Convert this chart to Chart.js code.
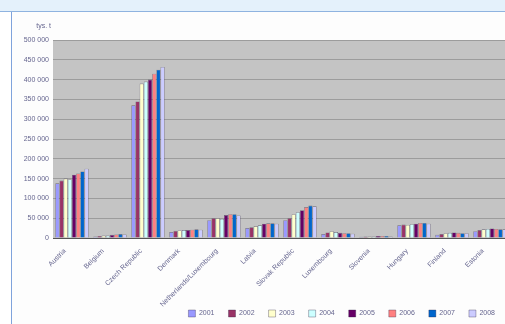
<!DOCTYPE html>
<html>
<head>
<meta charset="utf-8">
<script src="https://cdn.jsdelivr.net/npm/chart.js@4/dist/chart.umd.min.js"></script>
<style>
  html, body { margin: 0; padding: 0; width: 505px; height: 324px; overflow: hidden; background: #ffffff; }
  #band { position: absolute; left: 0; top: 0; width: 505px; height: 11px; background: #e4f1fb; border-bottom: 1px solid #8fb3e0; }
  #panel { position: absolute; left: 11px; top: 12px; width: 600px; height: 320px; border-left: 1px solid #7fa3dc; background: #fdfdfd; }
  #wrap { position: absolute; left: 13px; top: 13px; width: 510px; height: 314px; }
</style>
</head>
<body>
<div id="band"></div>
<div id="panel"></div>
<div id="wrap"><canvas id="c" width="510" height="314"></canvas></div>
<script>
// Countries on the category axis
const categories = [
  "Austria", "Belgium", "Czech Republic", "Denmark", "Netherlands/Luxembourg",
  "Latvia", "Slovak Republic", "Luxembourg", "Slovenia", "Hungary", "Finland", "Estonia"
];

// Yearly series (tys. t)
const years = ["2001", "2002", "2003", "2004", "2005", "2006", "2007", "2008"];
const v2001 = [138000, 4000, 335000, 15000, 45000, 25000, 45000, 10000, 3000, 32000, 8000, 17000];
const v2002 = [145000, 5000, 345000, 18000, 50000, 27000, 50000, 14000, 4000, 34000, 10000, 20000];
const v2003 = [150000, 6000, 390000, 19000, 50000, 30000, 60000, 17000, 4000, 33000, 12000, 22000];
const v2004 = [148000, 6000, 395000, 20000, 48000, 32000, 65000, 15000, 4000, 35000, 13000, 23000];
const v2005 = [160000, 8000, 400000, 20000, 58000, 36000, 70000, 13000, 5000, 36000, 14000, 24000];
const v2006 = [163000, 9000, 415000, 21000, 60000, 37000, 78000, 12000, 5000, 38000, 13000, 23000];
const v2007 = [168000, 10000, 425000, 22000, 60000, 37000, 82000, 12000, 5000, 38000, 12000, 22000];
const v2008 = [175000, 9000, 432000, 21000, 57000, 36000, 80000, 11000, 4000, 36000, 12000, 22000];

// Value axis ticks
const yTicks = [0, 50000, 100000, 150000, 200000, 250000, 300000, 350000, 400000, 450000, 500000];
const yUnit = "tys. t";

const seriesValues = [v2001, v2002, v2003, v2004, v2005, v2006, v2007, v2008];
const seriesColors = ["#9999ff", "#993366", "#ffffcc", "#ccffff", "#660066", "#ff8080", "#0066cc", "#ccccff"];

const textColor = "#66668f";
const baseFont = { family: "'Liberation Sans', Arial, sans-serif", size: 7 };

function fmt(v) {
  return String(v).replace(/\B(?=(\d{3})+(?!\d))/g, " ");
}

// Gray plot-area fill and the unit caption above the value axis
const plotBackground = {
  id: "plotBackground",
  // let the slanted category labels run down beside the legend
  afterLayout(chart) {
    const x = chart.scales.x;
    x.bottom = chart.height;
    x.height = x.bottom - x.top;
  },
  beforeDraw(chart) {
    const a = chart.chartArea, ctx = chart.ctx;
    ctx.save();
    ctx.fillStyle = "#c4c4c4";
    ctx.fillRect(a.left, a.top, a.right - a.left, a.bottom - a.top);
    ctx.restore();
  },
  afterDraw(chart) {
    const a = chart.chartArea, ctx = chart.ctx;
    ctx.save();
    ctx.fillStyle = textColor;
    ctx.font = "7px 'Liberation Sans', Arial, sans-serif";
    ctx.textAlign = "right";
    ctx.textBaseline = "middle";
    ctx.fillText(yUnit, a.left - 2, a.top - 14);
    ctx.restore();
  }
};

new Chart(document.getElementById("c"), {
  type: "bar",
  data: {
    labels: categories,
    datasets: years.map((y, i) => ({
      label: y,
      data: seriesValues[i],
      backgroundColor: seriesColors[i],
      borderColor: "rgba(40,30,60,0.55)",
      borderWidth: 0.6,
      categoryPercentage: 0.88,
      barPercentage: 1.0
    }))
  },
  options: {
    responsive: false,
    animation: false,
    layout: { padding: { top: 27, right: 14, left: 0, bottom: 0 } },
    plugins: {
      legend: {
        position: "bottom",
        align: "end",
        labels: {
          boxWidth: 7,
          boxHeight: 7,
          padding: 14,
          color: textColor,
          font: baseFont
        }
      },
      tooltip: { enabled: false }
    },
    scales: {
      x: {
        grid: { display: false, drawTicks: false },
        border: { color: "#555555" },
        ticks: {
          autoSkip: false,
          maxRotation: 45,
          minRotation: 45,
          padding: 9,
          labelOffset: -7,
          color: textColor,
          font: baseFont
        },
        afterFit(scale) { scale.height = 58; }
      },
      y: {
        min: 0,
        max: 500000,
        afterBuildTicks(scale) { scale.ticks = yTicks.map(v => ({ value: v })); },
        grid: { color: "#9c9c9c", lineWidth: 1, drawTicks: false },
        border: { display: false },
        ticks: {
          padding: 4,
          color: textColor,
          font: baseFont,
          callback: v => fmt(v)
        },
        afterFit(scale) { scale.width = 40; }
      }
    }
  },
  plugins: [plotBackground]
});
</script>
</body>
</html>
